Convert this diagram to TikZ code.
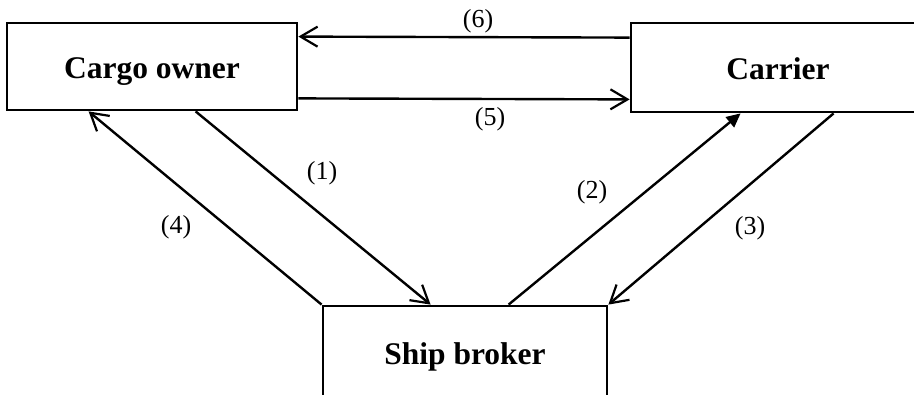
\documentclass[tikz,border=0pt]{standalone}
\usepackage{fontspec}
\setmainfont{Liberation Serif}
\usetikzlibrary{arrows.meta,calc}
\begin{document}
\begin{tikzpicture}[x=1pt,y=-1pt,
  box/.style={draw,line width=2.8pt,inner sep=0pt,text height=24pt,text depth=0pt,font=\fontsize{31.5}{31.5}\selectfont\bfseries},
  lbl/.style={inner sep=0pt,font=\fontsize{26}{26}\selectfont},
  conn/.style={line width=2.4pt},
  barb/.style={-{Straight Barb[length=17pt,width=20pt,line width=2.2pt]}},
  tri/.style={-{Triangle[length=14pt,width=13pt]}}]
\useasboundingbox (0,0) rectangle (914,395);
\clip (0,0) rectangle (914,395);
\node[box,minimum width=290pt,minimum height=87pt] (co) at (152,66.5) {Cargo owner};
\node[box,minimum width=294pt,minimum height=89pt] (ca) at (778,67.5) {Carrier};
\node[box,minimum width=284pt,minimum height=94pt] (sb) at (465,353) {Ship broker};
% (6)
\draw[conn,barb] ($(ca.north west)+(0,16)$) -- ($(co.north east)+(0,15)$);
% (5)
\draw[conn,barb] ($(co.south east)+(0,-13)$) -- ($(ca.south west)+(0,-14)$);
% (1)
\draw[conn,barb] ($(co.south west)+(190,0)$) -- ($(sb.north west)+(109,0)$);
% (4)
\draw[conn,barb] (sb.north west) -- ($(co.south west)+(83,0)$);
% (2)
\draw[conn,tri] ($(sb.north west)+(187,0)$) -- ($(ca.south west)+(111,0)$);
% (3)
\draw[conn,barb] ($(ca.south west)+(204,0)$) -- (sb.north east);
\node[lbl] (l6) at (478,21) {(6)};
\node[lbl] (l5) at (490,119) {(5)};
\node[lbl] (l1) at (322,173) {(1)};
\node[lbl] (l4) at (176,227) {(4)};
\node[lbl] (l2) at (592,192) {(2)};
\node[lbl] (l3) at (750,228) {(3)};
\end{tikzpicture}
\end{document}
